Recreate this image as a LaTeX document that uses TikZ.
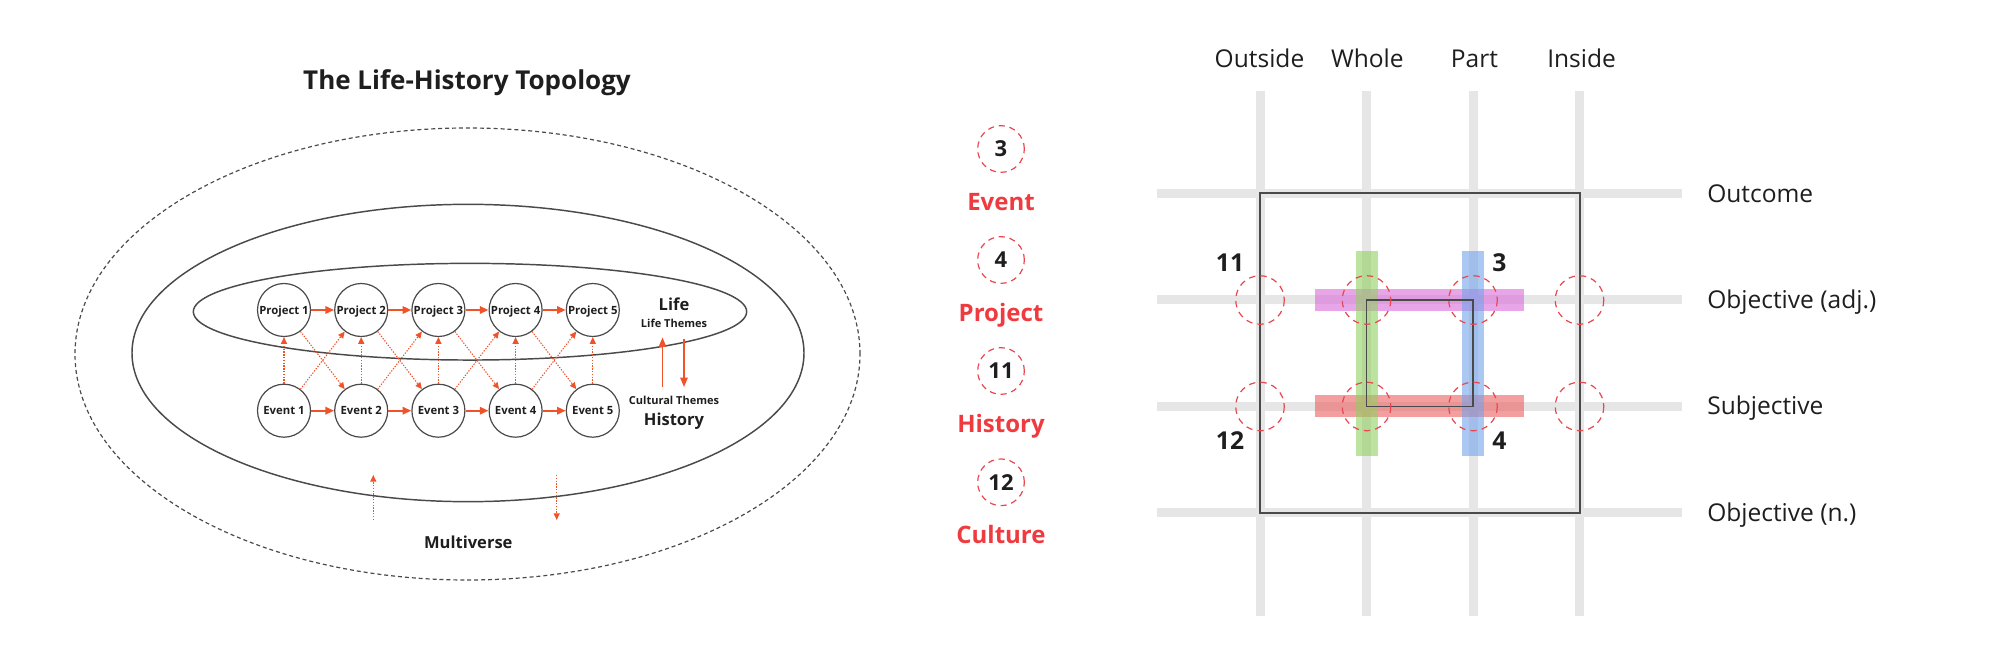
\documentclass[tikz,border=0pt]{standalone}
\usepackage{fontspec}
\setmainfont{Open Sans}
\usetikzlibrary{arrows.meta,shapes.geometric,calc}
\definecolor{org}{HTML}{F0532A}
\definecolor{lred}{HTML}{EF3B3F}
\definecolor{dred}{HTML}{E8474F}
\definecolor{gridgrey}{HTML}{E6E6E6}
\definecolor{edge}{HTML}{4A4A4A}
\definecolor{ink}{HTML}{1E1E1E}
\definecolor{barm}{HTML}{D96BD9}
\definecolor{barr}{HTML}{EB5F5F}
\definecolor{barg}{HTML}{91D061}
\definecolor{barb}{HTML}{73A3EB}
\tikzset{
  pc/.style={circle, draw=edge, fill=white, line width=0.9pt, minimum size=39.75pt, inner sep=0pt,
    font=\fontsize{8.5}{10}\selectfont\bfseries, text height=6.07pt, text depth=0pt, text=ink},
  shell/.style={ellipse, draw=edge, line width=1pt, inner sep=0pt},
  sarrow/.style={draw=org, line width=1.5pt, -{Triangle[length=6.5pt,width=5.5pt]}},
  darrow/.style={draw=org, line width=0.8pt, dash pattern=on 1pt off 1.1pt, -{Triangle[length=5pt,width=4.5pt]}},
  titletxt/.style={inner sep=0pt, font=\fontsize{19.5}{22}\selectfont\bfseries, text height=13.9pt, text depth=0pt, text=ink},
  bigtxt/.style={inner sep=0pt, font=\fontsize{12.4}{14}\selectfont\bfseries, text height=8.85pt, text depth=0pt, text=ink},
  smalltxt/.style={inner sep=0pt, font=\fontsize{8.25}{10}\selectfont\bfseries, text height=5.9pt, text depth=0pt, text=ink},
  legc/.style={circle, draw=dred, line width=0.9pt, dash pattern=on 4.6pt off 3.6pt, minimum size=35pt, inner sep=0pt,
    font=\fontsize{16.5}{18}\selectfont\bfseries, text height=11.8pt, text depth=0pt, text=ink},
  legtxt/.style={inner sep=0pt, font=\fontsize{18}{20}\selectfont\bfseries, text height=12.85pt, text depth=0pt, text=lred},
  hdr/.style={inner sep=0pt, font=\fontsize{18.4}{20}\selectfont, text height=13.1pt, text depth=0pt, text=ink},
  gnum/.style={inner sep=0pt, font=\fontsize{18.5}{20}\selectfont\bfseries, text height=13.2pt, text depth=0pt, text=ink},
  gline/.style={draw=gridgrey, line width=6.75pt},
  dcirc/.style={draw=dred, line width=0.9pt, dash pattern=on 4.8pt off 3.8pt},
}
\begin{document}
\begin{tikzpicture}[x=0.75pt,y=-0.75pt]
\useasboundingbox (0,0) rectangle (2000,666);

% ---------------- left: topology ----------------
\node[titletxt] (title) at (467,80) {The Life-History Topology};

\node[shell, dash pattern=on 3pt off 2.2pt, line width=0.9pt, minimum width=588.75pt, minimum height=339pt] (multi) at (467.5,354) {};
\node[shell, line width=1.1pt, minimum width=504pt, minimum height=223pt] (hist) at (468,353) {};
\node[shell, line width=1.1pt, minimum width=415pt, minimum height=72.5pt] (life) at (470,311.7) {};

\foreach \i/\x in {1/284,2/361.2,3/438.4,4/515.6,5/592.8}{
  \node[pc] (P\i) at (\x,310) {Project \i};
  \node[pc] (E\i) at (\x,410.7) {Event \i};
}
\foreach \i/\j in {1/2,2/3,3/4,4/5}{
  \draw[sarrow] (P\i) -- (P\j);
  \draw[sarrow] (E\i) -- (E\j);
  \draw[darrow] (P\i) -- (E\j);
  \draw[darrow] (E\i) -- (P\j);
}
\foreach \i in {1,...,5}{
  \draw[darrow] (E\i) -- (P\i);
}

\node[bigtxt] (lifelbl) at (674,304.3) {Life};
\node[smalltxt] (lifethemes) at (674,323.3) {Life Themes};
\node[smalltxt] (culthemes) at (674,400.7) {Cultural Themes};
\node[bigtxt] (histlbl) at (674,420) {History};
\node[bigtxt] (multilbl) at (468.3,542.7) {Multiverse};

\coordinate (upA) at (662.5,387.5);
\coordinate (upB) at (662.5,337.5);
\coordinate (dnA) at (684,339);
\coordinate (dnB) at (684,387);
\draw[draw=org, line width=1.2pt, -{Triangle[length=7pt,width=5.5pt]}] (upA) -- (upB);
\draw[draw=org, line width=1.2pt, -{Triangle[length=7pt,width=5.5pt]}] (dnA) -- (dnB);

\coordinate (mvA) at (373.3,520);
\coordinate (mvB) at (373.3,475);
\coordinate (mvC) at (556.7,475);
\coordinate (mvD) at (556.7,520);
\draw[darrow] (mvA) -- (mvB);
\draw[darrow] (mvC) -- (mvD);

% ---------------- middle: legend ----------------
\node[legc] (l3) at (1001,149) {3};
\node[legtxt] (lEvent) at (1001,201.7) {Event};
\node[legc] (l4) at (1001,260) {4};
\node[legtxt] (lProject) at (1001,313.3) {Project};
\node[legc] (l11) at (1001,371) {11};
\node[legtxt] (lHistory) at (1001,424) {History};
\node[legc] (l12) at (1001,482.3) {12};
\node[legtxt] (lCulture) at (1001,535) {Culture};

% ---------------- right: grid ----------------
\foreach \c in {1260,1366.5,1473,1579.5}{
  \draw[gline] (\c,91) -- (\c,615.5);
}
\foreach \r in {193.5,300,406.5,513}{
  \draw[gline] (1157,\r) -- (1682,\r);
}
\draw[draw=edge, line width=1.5pt] (1260,193.5) rectangle (1579.5,513);

\fill[barm, opacity=0.6] (1314.5,289) rectangle (1524,311);
\fill[barr, opacity=0.6] (1314.5,395.5) rectangle (1524,417.5);
\fill[barg, opacity=0.6] (1355.5,250.7) rectangle (1377.5,456);
\fill[barb, opacity=0.6] (1462,250.7) rectangle (1484,456);

\draw[draw=edge, line width=1.2pt] (1366.5,300) rectangle (1473,406.5);

\foreach \c in {1260,1366.5,1473,1579.5}{
  \foreach \r in {300,406.5}{
    \draw[dcirc] (\c,\r) circle [radius=24.3];
  }
}

\node[gnum] (n11) at (1230,262.5) {11};
\node[gnum] (n12) at (1230,441) {12};
\node[gnum] (n3) at (1499.3,262.5) {3};
\node[gnum] (n4) at (1499.3,441) {4};

\node[hdr] (hOut) at (1259.5,58.7) {Outside};
\node[hdr] (hWhole) at (1367.3,58.7) {Whole};
\node[hdr] (hPart) at (1474.4,58.7) {Part};
\node[hdr] (hIn) at (1581.6,58.7) {Inside};

\node[hdr, anchor=west] (rOut) at (1707,194) {Outcome};
\node[hdr, anchor=west] (rObjA) at (1707,300) {Objective (adj.)};
\node[hdr, anchor=west] (rSub) at (1707,406) {Subjective};
\node[hdr, anchor=west] (rObjN) at (1707,512.7) {Objective (n.)};
\end{tikzpicture}
\end{document}
